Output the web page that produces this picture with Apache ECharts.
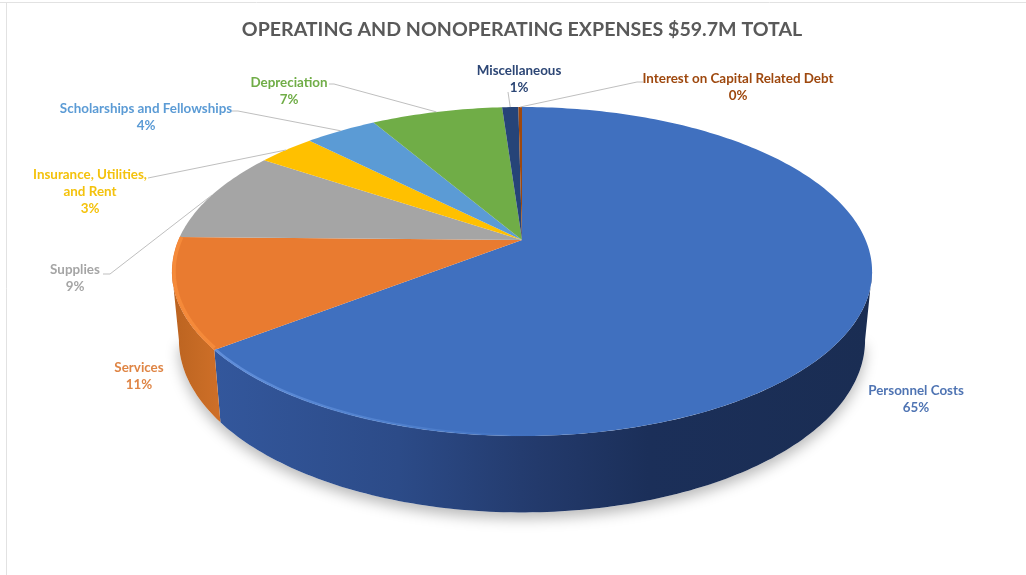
<!DOCTYPE html>
<html>
<head>
<meta charset="utf-8">
<style>html,body{margin:0;padding:0;background:#fff}#c{width:1026px;height:575px}</style>
<script src="https://cdn.jsdelivr.net/npm/echarts@6/dist/echarts.min.js"></script>
</head>
<body>
<div id="c"></div>
<script>
// Data
var chartTitle = 'OPERATING AND NONOPERATING EXPENSES $59.7M TOTAL';
var categories = ['Personnel Costs','Services','Supplies','Insurance, Utilities,\nand Rent','Scholarships and Fellowships','Depreciation','Miscellaneous','Interest on Capital Related Debt'];
var shares = [64.51,10.79,9.1,3.2,4.0,7.3,0.9,0.2];

// Styling and layout, kept apart from the data
var sliceColors = ['#4070bf','#e97b30','#a5a5a5','#ffc000','#5b9bd5','#70ad47','#264478','#9e480e'];
var labelColors = ['#4f74b3','#df8545','#a5a5a5','#f4c20d','#5b9bd5','#70ad47','#2c4675','#9e480e'];
var labelCenters = [[916,399],[139,376],[75,278],[90,192],[146,117],[289,91.5],[519,79],[738,87]];
var leaderElbows = [null,null,[[103,274],[110,274]],[[148,178]],[[232,111],[238,111]],[[329,84],[334,84]],[[508,92]],[[643,82],[637,82]]];

var total = shares.reduce(function(a,b){return a+b;},0);
var APEX_X=522, APEX_Y=240, A=112.5, C=-0.1915, R=343.6;
function rim(deg,s){
  var t=deg*Math.PI/180, u=Math.sin(t), v=-Math.cos(t), w=1+C*v;
  var x=R*u/w, y=(A*v+APEX_Y)/w;
  s=s||1;
  return [APEX_X+s*x, APEX_Y+s*(y-APEX_Y)];
}
function base(deg){
  var p=rim(deg);
  return [APEX_X+0.98*(p[0]-APEX_X), 424.5+1.047*(p[1]-352)];
}
function arc(fn,a,b,s){
  var pts=[], n=Math.max(2,Math.ceil(Math.abs(b-a))), i;
  for(i=0;i<=n;i++){pts.push(fn(a+(b-a)*i/n,s));}
  return pts;
}
function grad(stops){
  return {type:'linear',x:0,y:0,x2:1,y2:0,colorStops:stops.map(function(s){return {offset:s[0],color:s[1]};})};
}
var TOP_LEFT=259, TOP_RIGHT=101;

function renderItem(params,api){
  var i=params.dataIndex, kids=[], before=0, k;
  for(k=0;k<i;k++){before+=shares[k];}
  var a0=before/total*360, a1=(before+api.value(0))/total*360, mid=(a0+a1)/2;

  if(i===0){
    var ring=arc(base,TOP_RIGHT,TOP_LEFT);
    kids.push({type:'polygon',z2:0,shape:{points:ring.concat([[APEX_X,300]])},
      style:{fill:'#fff',shadowBlur:14,shadowColor:'rgba(0,0,0,0.28)',shadowOffsetY:6}});
    var from=Math.max(a0,TOP_RIGHT), to=a1;
    var w=arc(rim,from,to).concat(arc(base,to,from));
    kids.push({type:'polygon',z2:1,shape:{points:w},
      style:{fill:grad([[0,'#33579c'],[0.28,'#2c4b88'],[0.49,'#233a6c'],[0.66,'#1b2f59'],[1,'#1a2d53']])}});
  }
  if(i===1){
    var e=Math.min(a1,TOP_LEFT);
    var w2=arc(rim,a0,e).concat(arc(base,e,a0));
    kids.push({type:'polygon',z2:1,shape:{points:w2},
      style:{fill:grad([[0,'#bb6320'],[0.6,'#c76b25'],[1,'#cf6f28']])}});
  }
  kids.push({type:'polygon',z2:2,shape:{points:[[APEX_X,APEX_Y]].concat(arc(rim,a0,a1))},
    style:{fill:sliceColors[i]}});
  if(i===0){
    kids.push({type:'polyline',z2:3,shape:{points:arc(rim,178,a1,0.996)},
      style:{fill:null,lineWidth:2.5,stroke:{type:'linear',x:0,y:0,x2:1,y2:0,colorStops:[
        {offset:0,color:'rgba(105,150,225,0.8)'},{offset:0.6,color:'rgba(95,145,220,0.45)'},{offset:1,color:'rgba(90,140,220,0)'}]}}});
  }
  if(i===1){
    kids.push({type:'polyline',z2:3,shape:{points:arc(rim,a0+0.5,a1,0.994)},
      style:{fill:null,lineWidth:3.5,stroke:'#f58a3a'}});
  }
  if(leaderElbows[i]){
    kids.push({type:'polyline',z2:4,shape:{points:leaderElbows[i].concat([rim(mid)])},
      style:{fill:null,stroke:'#bfbfbf',lineWidth:1}});
  }
  var pct=Math.round(api.value(0)/total*100)+'%';
  kids.push({type:'text',z2:5,x:labelCenters[i][0],y:labelCenters[i][1],
    style:{text:categories[i]+'\n'+pct,fill:labelColors[i],align:'center',verticalAlign:'middle',
      font:'bold 13.4px Lato',lineHeight:17}});
  return {type:'group',children:kids};
}

var chart=echarts.init(document.getElementById('c'),null,{renderer:'canvas'});
chart.setOption({
  animation:false,
  backgroundColor:'#ffffff',
  title:{text:chartTitle,left:517,top:15,textAlign:'center',
    textStyle:{fontFamily:'Lato',fontWeight:'bold',fontSize:19.6,color:'#595959'}},
  graphic:[
    {type:'line',shape:{x1:0,y1:2.5,x2:1026,y2:2.5},style:{stroke:'#e2e2e2',lineWidth:1},silent:true},
    {type:'line',shape:{x1:6.5,y1:2.5,x2:6.5,y2:575},style:{stroke:'#e2e2e2',lineWidth:1},silent:true}
  ],
  series:[{type:'custom',coordinateSystem:'none',renderItem:renderItem,silent:true,
    data:shares.map(function(v,i){return {name:categories[i],value:[v]};})}]
});
</script>
</body>
</html>
